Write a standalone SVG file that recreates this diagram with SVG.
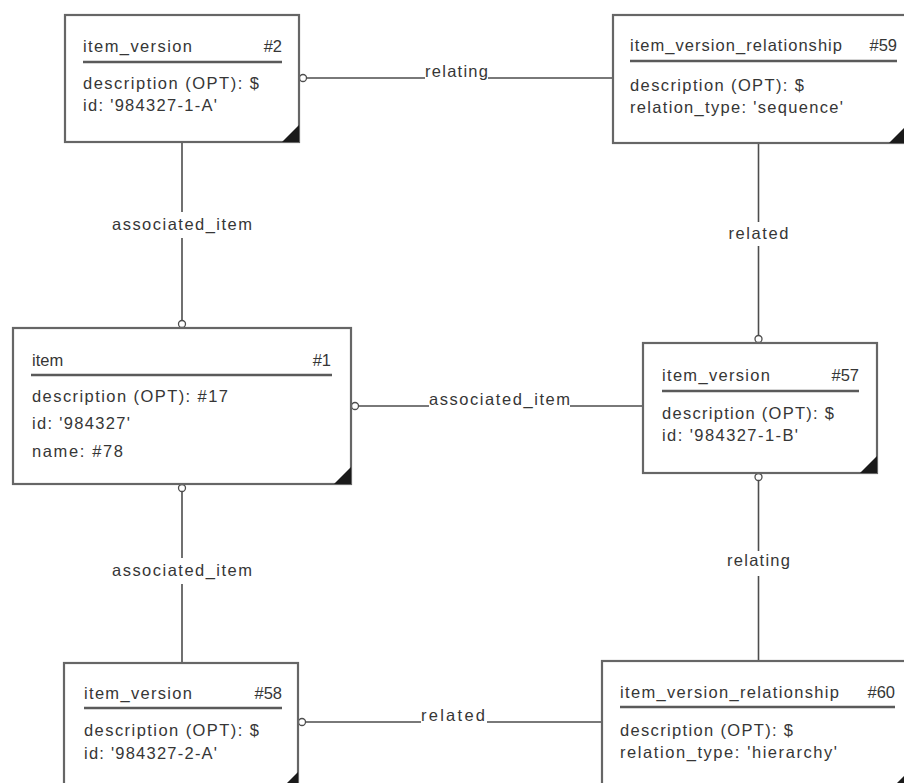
<svg xmlns="http://www.w3.org/2000/svg" width="904" height="783" viewBox="0 0 904 783">
  <style>
    .box { fill: #ffffff; stroke: #666666; stroke-width: 2.2; }
    .hdr { stroke: #5a5a5a; stroke-width: 2.4; }
    .corner { fill: #1a1a1a; }
    .t { font-family: "Liberation Sans", Arial, sans-serif; font-size: 16.5px; fill: #363636; }
    .end { text-anchor: end; }
    .mid { text-anchor: middle; }
    .wire { stroke: #4d4d4d; stroke-width: 1.6; fill: none; }
    .opt { fill: #ffffff; stroke: #4d4d4d; stroke-width: 1.3; }
  </style>
  <rect width="904" height="783" fill="#ffffff"/>

  <!-- relationship lines -->
  <g id="connectors">
    <!-- #2 relating #59 -->
    <line class="wire" x1="306.5" y1="78" x2="425" y2="78"/>
    <line class="wire" x1="488" y1="78" x2="613" y2="78"/>
    <circle class="opt" cx="303" cy="78" r="3.5"/>
    <text class="t" x="425" y="77" textLength="63" lengthAdjust="spacing">relating</text>

    <!-- #1 associated_item of #2 -->
    <line class="wire" x1="182" y1="142" x2="182" y2="212"/>
    <line class="wire" x1="182" y1="238" x2="182" y2="320.5"/>
    <circle class="opt" cx="182" cy="324" r="3.5"/>
    <text class="t mid" x="182" y="230" textLength="140" lengthAdjust="spacing">associated_item</text>

    <!-- #1 associated_item of #57 -->
    <line class="wire" x1="358.5" y1="406" x2="429" y2="406"/>
    <line class="wire" x1="570" y1="406" x2="643" y2="406"/>
    <circle class="opt" cx="355" cy="406" r="3.5"/>
    <text class="t" x="429" y="405" textLength="141" lengthAdjust="spacing">associated_item</text>

    <!-- #1 associated_item of #58 -->
    <line class="wire" x1="182" y1="491.5" x2="182" y2="558"/>
    <line class="wire" x1="182" y1="584" x2="182" y2="663"/>
    <circle class="opt" cx="182" cy="488" r="3.5"/>
    <text class="t mid" x="182" y="576" textLength="140" lengthAdjust="spacing">associated_item</text>

    <!-- #59 related #57 -->
    <line class="wire" x1="758.5" y1="143" x2="758.5" y2="222"/>
    <line class="wire" x1="758.5" y1="246" x2="758.5" y2="335.5"/>
    <circle class="opt" cx="758.5" cy="339" r="3.5"/>
    <text class="t mid" x="758.5" y="238.5" textLength="60" lengthAdjust="spacing">related</text>

    <!-- #60 relating #57 -->
    <line class="wire" x1="758.5" y1="480.5" x2="758.5" y2="551"/>
    <line class="wire" x1="758.5" y1="576" x2="758.5" y2="661"/>
    <circle class="opt" cx="758.5" cy="477" r="3.5"/>
    <text class="t mid" x="758.5" y="566" textLength="63" lengthAdjust="spacing">relating</text>

    <!-- #60 related #58 -->
    <line class="wire" x1="305.5" y1="722" x2="421" y2="722"/>
    <line class="wire" x1="487" y1="722" x2="602" y2="722"/>
    <circle class="opt" cx="302" cy="722" r="3.5"/>
    <text class="t" x="421" y="721" textLength="64" lengthAdjust="spacing">related</text>
  </g>

  <!-- item_version #2 -->
  <g id="node-2">
    <rect class="box" x="65" y="15" width="234" height="127"/>
    <polygon class="corner" points="282,142 299,125 299,142"/>
    <text class="t" x="83" y="52" textLength="109" lengthAdjust="spacing">item_version</text>
    <text class="t end" x="282" y="52">#2</text>
    <line class="hdr" x1="83" y1="62" x2="282" y2="62"/>
    <text class="t" x="83" y="89" textLength="176" lengthAdjust="spacing">description (OPT): $</text>
    <text class="t" x="83" y="111" textLength="134" lengthAdjust="spacing">id: '984327-1-A'</text>
  </g>

  <!-- item_version_relationship #59 -->
  <g id="node-59">
    <rect class="box" x="613" y="15" width="293" height="128"/>
    <polygon class="corner" points="889,143 906,126 906,143"/>
    <text class="t" x="630" y="51" textLength="212" lengthAdjust="spacing">item_version_relationship</text>
    <text class="t end" x="897" y="51">#59</text>
    <line class="hdr" x1="630" y1="61" x2="897" y2="61"/>
    <text class="t" x="630" y="91" textLength="174" lengthAdjust="spacing">description (OPT): $</text>
    <text class="t" x="630" y="113" textLength="213" lengthAdjust="spacing">relation_type: 'sequence'</text>
  </g>

  <!-- item #1 -->
  <g id="node-1">
    <rect class="box" x="13" y="328" width="338" height="156"/>
    <polygon class="corner" points="334,484 351,467 351,484"/>
    <text class="t" x="32" y="366">item</text>
    <text class="t end" x="331" y="366">#1</text>
    <line class="hdr" x1="31" y1="375" x2="332" y2="375"/>
    <text class="t" x="32" y="402" textLength="196" lengthAdjust="spacing">description (OPT): #17</text>
    <text class="t" x="32" y="429" textLength="98" lengthAdjust="spacing">id: '984327'</text>
    <text class="t" x="32" y="457" textLength="91" lengthAdjust="spacing">name: #78</text>
  </g>

  <!-- item_version #57 -->
  <g id="node-57">
    <rect class="box" x="643" y="343" width="234" height="130"/>
    <polygon class="corner" points="860,473 877,456 877,473"/>
    <text class="t" x="662" y="381" textLength="108" lengthAdjust="spacing">item_version</text>
    <text class="t end" x="859" y="381">#57</text>
    <line class="hdr" x1="662" y1="391" x2="859" y2="391"/>
    <text class="t" x="662" y="419" textLength="172" lengthAdjust="spacing">description (OPT): $</text>
    <text class="t" x="662" y="441" textLength="136" lengthAdjust="spacing">id: '984327-1-B'</text>
  </g>

  <!-- item_version #58 -->
  <g id="node-58">
    <rect class="box" x="64" y="663" width="234" height="126"/>
    <polygon class="corner" points="281,789 298,772 298,789"/>
    <text class="t" x="84" y="699" textLength="108" lengthAdjust="spacing">item_version</text>
    <text class="t end" x="282" y="699">#58</text>
    <line class="hdr" x1="84" y1="708" x2="282" y2="708"/>
    <text class="t" x="84" y="736" textLength="175" lengthAdjust="spacing">description (OPT): $</text>
    <text class="t" x="84" y="759" textLength="133" lengthAdjust="spacing">id: '984327-2-A'</text>
  </g>

  <!-- item_version_relationship #60 -->
  <g id="node-60">
    <rect class="box" x="602" y="661" width="306" height="128"/>
    <polygon class="corner" points="891,789 908,772 908,789"/>
    <text class="t" x="620" y="698" textLength="219" lengthAdjust="spacing">item_version_relationship</text>
    <text class="t end" x="895" y="698">#60</text>
    <line class="hdr" x1="620" y1="707" x2="895" y2="707"/>
    <text class="t" x="620" y="736" textLength="173" lengthAdjust="spacing">description (OPT): $</text>
    <text class="t" x="620" y="758" textLength="217" lengthAdjust="spacing">relation_type: 'hierarchy'</text>
  </g>
</svg>
